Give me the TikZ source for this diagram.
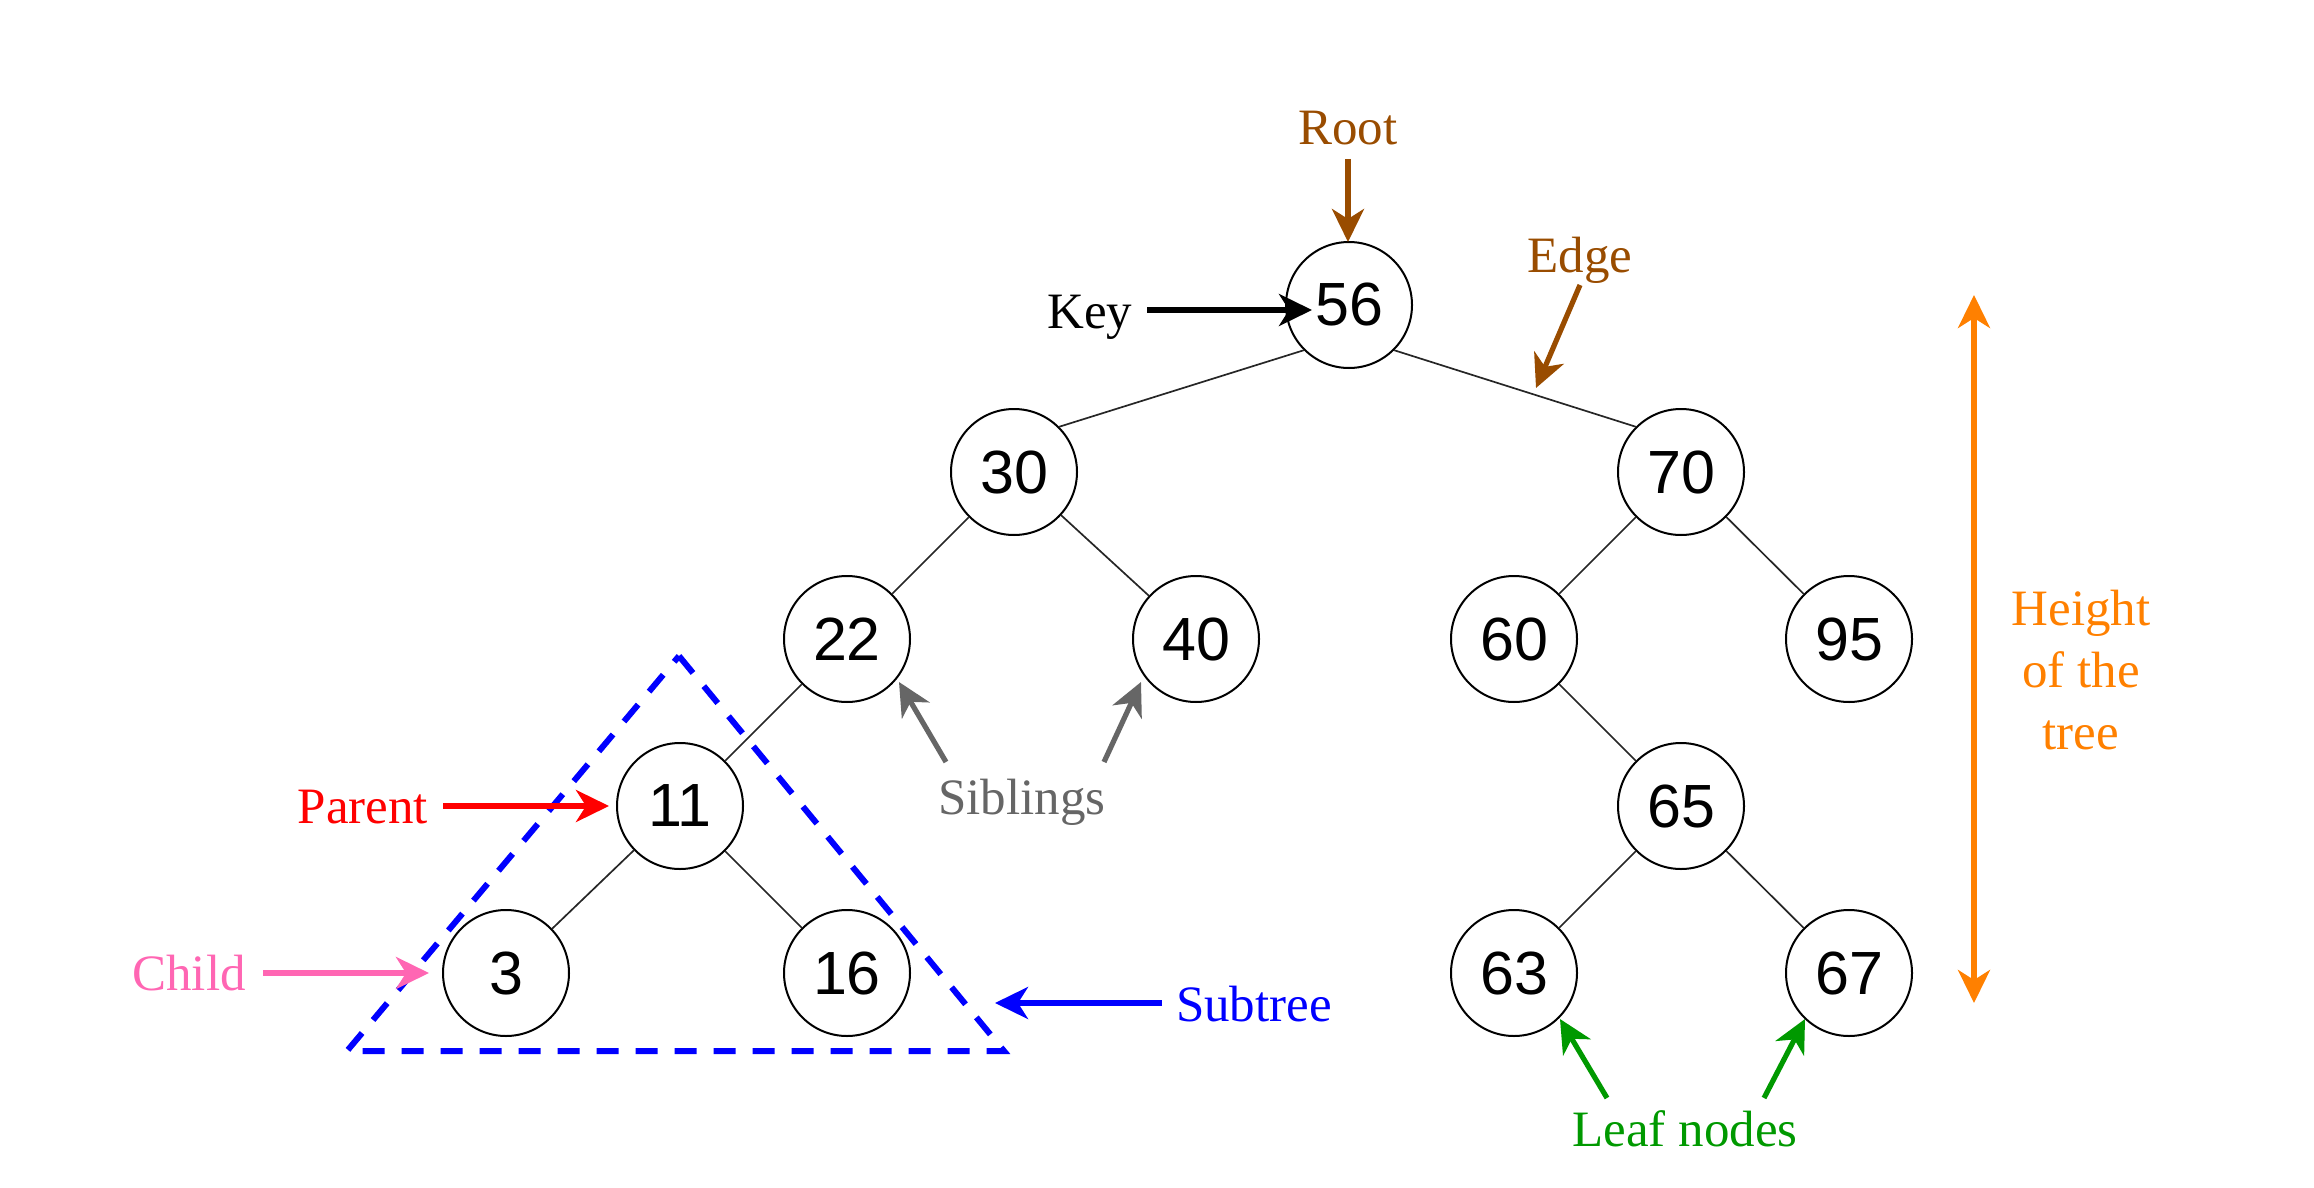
\documentclass[tikz,border=0pt]{standalone}
\usepackage{fontspec}
\setmainfont{Liberation Serif}
\newfontfamily\numfont{Liberation Sans}
\usetikzlibrary{arrows.meta}
\definecolor{cbrown}{HTML}{994C00}
\definecolor{corange}{HTML}{FF8000}
\definecolor{cpink}{HTML}{FF66B3}
\definecolor{cgray}{HTML}{666666}
\definecolor{cgreen}{HTML}{009900}
\definecolor{cblue}{HTML}{0000FF}
\definecolor{cred}{HTML}{FF0000}
\begin{document}
\begin{tikzpicture}[x=0.5pt,y=-0.5pt,
  tnode/.style={circle,draw=black,line width=1pt,minimum size=63pt,inner sep=0pt,
    font=\numfont\fontsize{30.5}{36}\selectfont},
  tedge/.style={line width=0.85pt,draw=black!85},
  lbl/.style={font=\fontsize{25.5}{31}\selectfont,anchor=base,inner sep=0pt},
  arr/.style={line width=2.6pt,-{Stealth[length=16.5pt,width=16pt,inset=5pt]}},
  darr/.style={line width=2.6pt,{Stealth[length=16.5pt,width=16pt,inset=5pt]}-{Stealth[length=16.5pt,width=16pt,inset=5pt]}},
  subtreebox/.style={draw=cblue,line width=3pt,dash pattern=on 11pt off 8.5pt},
]
\useasboundingbox (0,0) rectangle (2314,1188);

% tree nodes
\node[tnode] (n56) at (1349,305) {56};
\node[tnode] (n30) at (1014,472) {30};
\node[tnode] (n70) at (1681,472) {70};
\node[tnode] (n22) at (847,639) {22};
\node[tnode] (n40) at (1196,639) {40};
\node[tnode] (n60) at (1514,639) {60};
\node[tnode] (n95) at (1849,639) {95};
\node[tnode] (n11) at (680,806) {11};
\node[tnode] (n65) at (1681,806) {65};
\node[tnode] (n3)  at (506,973) {3};
\node[tnode] (n16) at (847,973) {16};
\node[tnode] (n63) at (1514,973) {63};
\node[tnode] (n67) at (1849,973) {67};

% tree edges
\draw[tedge] (n56.225) -- (n30.45);
\draw[tedge] (n56.-45) -- (n70.135);
\draw[tedge] (n30) -- (n22);
\draw[tedge] (n30) -- (n40);
\draw[tedge] (n70) -- (n60);
\draw[tedge] (n70) -- (n95);
\draw[tedge] (n22) -- (n11);
\draw[tedge] (n60) -- (n65);
\draw[tedge] (n11) -- (n3);
\draw[tedge] (n11) -- (n16);
\draw[tedge] (n65) -- (n63);
\draw[tedge] (n65) -- (n67);

% subtree triangle
\coordinate (tA) at (679,656);
\coordinate (tR) at (1004,1051);
\coordinate (tL) at (347,1051);
\draw[subtreebox] (tA) -- (tR) -- (tL) -- cycle;

% labels
\node[lbl,text=cbrown] (root) at (1348,145) {Root};
\node[lbl,text=black] (key) at (1090,328) {Key};
\node[lbl,text=cbrown] (edge) at (1580,272) {Edge};
\node[lbl,text=cred] (parent) at (363,823) {Parent};
\node[lbl,text=cpink] (child) at (189,990) {Child};
\node[lbl,text=cgray] (sib) at (1022,814) {Siblings};
\node[lbl,text=cblue] (subtree) at (1254,1021) {Subtree};
\node[lbl,text=cgreen] (leaf) at (1685,1146) {Leaf nodes};
\node[text=corange,font=\fontsize{25.5}{31}\selectfont,align=center,inner sep=0pt] (height) at (2081,670) {Height\\of the\\tree};

% arrow end points
\coordinate (rootS) at (1348,159);  \coordinate (rootT) at (1348,242);
\coordinate (keyS) at (1147,310);   \coordinate (keyT) at (1312,310);
\coordinate (edgeS) at (1580,285);  \coordinate (edgeT) at (1536,388);
\coordinate (parS) at (443,806);    \coordinate (parT) at (609,806);
\coordinate (chS) at (263,973);     \coordinate (chT) at (429,973);
\coordinate (sib1S) at (946,762);   \coordinate (sib1T) at (899,682);
\coordinate (sib2S) at (1104,762);  \coordinate (sib2T) at (1141,682);
\coordinate (subS) at (1162,1003);  \coordinate (subT) at (995,1003);
\coordinate (leaf1S) at (1607,1098); \coordinate (leaf1T) at (1560,1019);
\coordinate (leaf2S) at (1764,1098); \coordinate (leaf2T) at (1805,1019);
\coordinate (hTop) at (1974,295);   \coordinate (hBot) at (1974,1003);

% arrows
\draw[arr,cbrown] (rootS) -- (rootT);
\draw[arr,black] (keyS) -- (keyT);
\draw[arr,cbrown] (edgeS) -- (edgeT);
\draw[arr,cred] (parS) -- (parT);
\draw[arr,cpink] (chS) -- (chT);
\draw[arr,cgray] (sib1S) -- (sib1T);
\draw[arr,cgray] (sib2S) -- (sib2T);
\draw[arr,cblue] (subS) -- (subT);
\draw[arr,cgreen] (leaf1S) -- (leaf1T);
\draw[arr,cgreen] (leaf2S) -- (leaf2T);
\draw[darr,corange] (hTop) -- (hBot);
\end{tikzpicture}
\end{document}
